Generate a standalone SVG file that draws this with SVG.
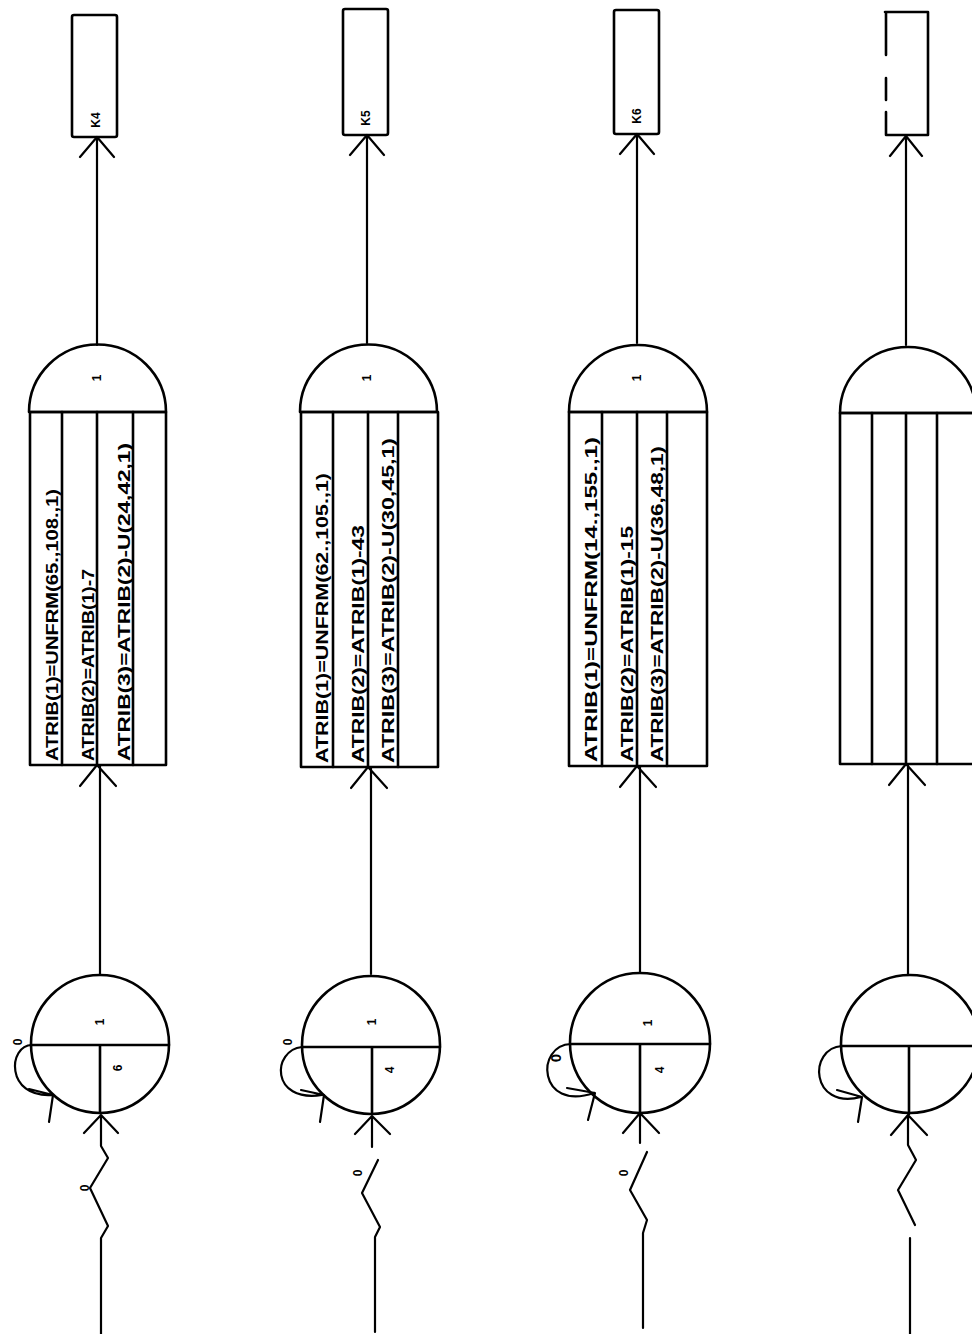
<svg xmlns="http://www.w3.org/2000/svg" width="972" height="1334" viewBox="0 0 972 1334">
<style>
.s{fill:none;stroke:#000;stroke-width:2.6;stroke-linecap:round;stroke-linejoin:round}
.c{fill:none;stroke:#000;stroke-width:2.2;stroke-linecap:round;stroke-linejoin:round}
.t{font-family:"Liberation Sans",Arial,sans-serif;font-weight:bold;font-size:16px;fill:#000}
.n{font-family:"Liberation Sans",Arial,sans-serif;font-weight:bold;font-size:12px;fill:#000;text-anchor:middle}
</style>
<rect width="972" height="1334" fill="#fff"/>

<!-- connectors -->
<g id="connectors" class="c">
  <!-- column 1 -->
  <path d="M97,345 V137 M80,157 L97,137 L114,157"/>
  <path d="M100,974 V765 M80,786 L97,765 L116,786"/>
  <path d="M101,1334 V1238 L108,1226 L90,1188 L108,1158 L101,1146 V1115 M84,1133 L101,1115 L118,1133"/>
  <path d="M32,1045 C8,1045 5,1098 52,1095 M29,1089 L53,1095 L49,1122"/>
  <!-- column 2 -->
  <path d="M367,343 V135 M350,155 L367,135 L384,155"/>
  <path d="M371,974 V767 M351,788 L368,767 L387,788"/>
  <path d="M375,1332 V1237 L380,1227 L362,1193 L378,1160 M372,1147 V1116 M355,1134 L372,1116 L390,1134"/>
  <path d="M302,1047 C272,1050 270,1103 322,1095 M301,1090 L324,1095 L320,1122"/>
  <!-- column 3 -->
  <path d="M637,343 V134 M620,154 L637,134 L654,154"/>
  <path d="M640,972 V766 M620,787 L637,766 L656,787"/>
  <path d="M643,1328 V1233 L647,1220 L630,1190 L647,1152 M640,1143 V1113 M623,1133 L640,1113 L659,1133"/>
  <path d="M571,1044 C535,1045 538,1112 594,1093 M567,1088 L595,1093 L588,1120"/>
  <!-- column 4 -->
  <path d="M906,345 V136 M890,156 L906,136 L922,156"/>
  <path d="M908,974 V764 M889,785 L906,764 L925,785"/>
  <path d="M910,1334 V1238 M915,1225 L898,1190 L916,1160 L908,1145 V1115 M891,1135 L908,1115 L927,1135"/>
  <path d="M842,1046 C808,1048 810,1110 861,1097 M837,1090 L862,1097 L858,1122"/>
</g>

<!-- column 1 nodes -->
<g id="k4">
  <rect class="s" x="72" y="15" width="45" height="122" rx="2"/>
  <text class="n" transform="translate(100,120) rotate(-90)">K4</text>
</g>
<g id="assign1">
  <path class="s" d="M29,412 A68,67 0 0 1 166,412 Z"/>
  <rect class="s" x="30" y="412" width="136" height="353"/>
  <path class="s" d="M62,412 V765 M97,412 V765 M133,412 V765"/>
  <text class="n" transform="translate(101,378) rotate(-90)">1</text>
  <text class="t" transform="translate(58,761) rotate(-90)" textLength="272" lengthAdjust="spacingAndGlyphs">ATRIB(1)=UNFRM(65.,108.,1)</text>
  <text class="t" transform="translate(94,761) rotate(-90)" textLength="192" lengthAdjust="spacingAndGlyphs">ATRIB(2)=ATRIB(1)-7</text>
  <text class="t" transform="translate(130,761) rotate(-90)" textLength="318" lengthAdjust="spacingAndGlyphs">ATRIB(3)=ATRIB(2)-U(24,42,1)</text>
</g>
<g id="create1">
  <circle class="s" cx="100" cy="1044" r="69"/>
  <path class="s" d="M31,1045 H169 M100,1045 V1113"/>
  <text class="n" transform="translate(104,1022) rotate(-90)">1</text>
  <text class="n" transform="translate(122,1068) rotate(-90)">6</text>
  <text class="n" transform="translate(22,1042) rotate(-90)">0</text>
  <text class="n" transform="translate(89,1188) rotate(-90)">0</text>
</g>

<!-- column 2 nodes -->
<g id="k5">
  <rect class="s" x="343" y="9" width="45" height="126" rx="2"/>
  <text class="n" transform="translate(370,118) rotate(-90)">K5</text>
</g>
<g id="assign2">
  <path class="s" d="M300,412 A68,67 0 0 1 437,412 Z"/>
  <rect class="s" x="301" y="412" width="137" height="355"/>
  <path class="s" d="M333,412 V767 M368,412 V767 M398,412 V767"/>
  <text class="n" transform="translate(371,378) rotate(-90)">1</text>
  <text class="t" transform="translate(328,763) rotate(-90)" textLength="290" lengthAdjust="spacingAndGlyphs">ATRIB(1)=UNFRM(62.,105.,1)</text>
  <text class="t" transform="translate(364,763) rotate(-90)" textLength="238" lengthAdjust="spacingAndGlyphs">ATRIB(2)=ATRIB(1)-43</text>
  <text class="t" transform="translate(394,763) rotate(-90)" textLength="325" lengthAdjust="spacingAndGlyphs">ATRIB(3)=ATRIB(2)-U(30,45,1)</text>
</g>
<g id="create2">
  <circle class="s" cx="371" cy="1045" r="69"/>
  <path class="s" d="M302,1047 H440 M372,1047 V1114"/>
  <text class="n" transform="translate(376,1022) rotate(-90)">1</text>
  <text class="n" transform="translate(394,1070) rotate(-90)">4</text>
  <text class="n" transform="translate(292,1042) rotate(-90)">0</text>
  <text class="n" transform="translate(362,1173) rotate(-90)">0</text>
</g>

<!-- column 3 nodes -->
<g id="k6">
  <rect class="s" x="614" y="10" width="45" height="124" rx="2"/>
  <text class="n" transform="translate(641,116) rotate(-90)">K6</text>
</g>
<g id="assign3">
  <path class="s" d="M569,412 A69,67 0 0 1 707,412 Z"/>
  <rect class="s" x="569" y="412" width="138" height="354"/>
  <path class="s" d="M602,412 V766 M637,412 V766 M667,412 V766"/>
  <text class="n" transform="translate(641,378) rotate(-90)">1</text>
  <text class="t" transform="translate(597,762) rotate(-90)" textLength="325" lengthAdjust="spacingAndGlyphs">ATRIB(1)=UNFRM(14.,155.,1)</text>
  <text class="t" transform="translate(633,762) rotate(-90)" textLength="236" lengthAdjust="spacingAndGlyphs">ATRIB(2)=ATRIB(1)-15</text>
  <text class="t" transform="translate(663,762) rotate(-90)" textLength="316" lengthAdjust="spacingAndGlyphs">ATRIB(3)=ATRIB(2)-U(36,48,1)</text>
</g>
<g id="create3">
  <circle class="s" cx="640" cy="1043" r="70"/>
  <path class="s" d="M571,1044 H710 M640,1044 V1112"/>
  <text class="n" transform="translate(652,1023) rotate(-90)">1</text>
  <text class="n" transform="translate(664,1070) rotate(-90)">4</text>
  <text class="n" style="font-size:15px" transform="translate(561,1058) rotate(-90)">0</text>
  <text class="n" transform="translate(628,1173) rotate(-90)">0</text>
</g>

<!-- column 4 nodes -->
<g id="k7">
  <path class="s" d="M885,12 H928 V135 H886 M886,135 V112 M886,100 V78 M886,55 V12"/>
</g>
<g id="assign4">
  <path class="s" d="M840,413 A68,66 0 0 1 976,413 Z"/>
  <rect class="s" x="840" y="413" width="136" height="351"/>
  <path class="s" d="M872,413 V764 M906,413 V764 M937,413 V764"/>
</g>
<g id="create4">
  <circle class="s" cx="910" cy="1044" r="69"/>
  <path class="s" d="M841,1046 H972 M909,1046 V1114"/>
</g>
</svg>
